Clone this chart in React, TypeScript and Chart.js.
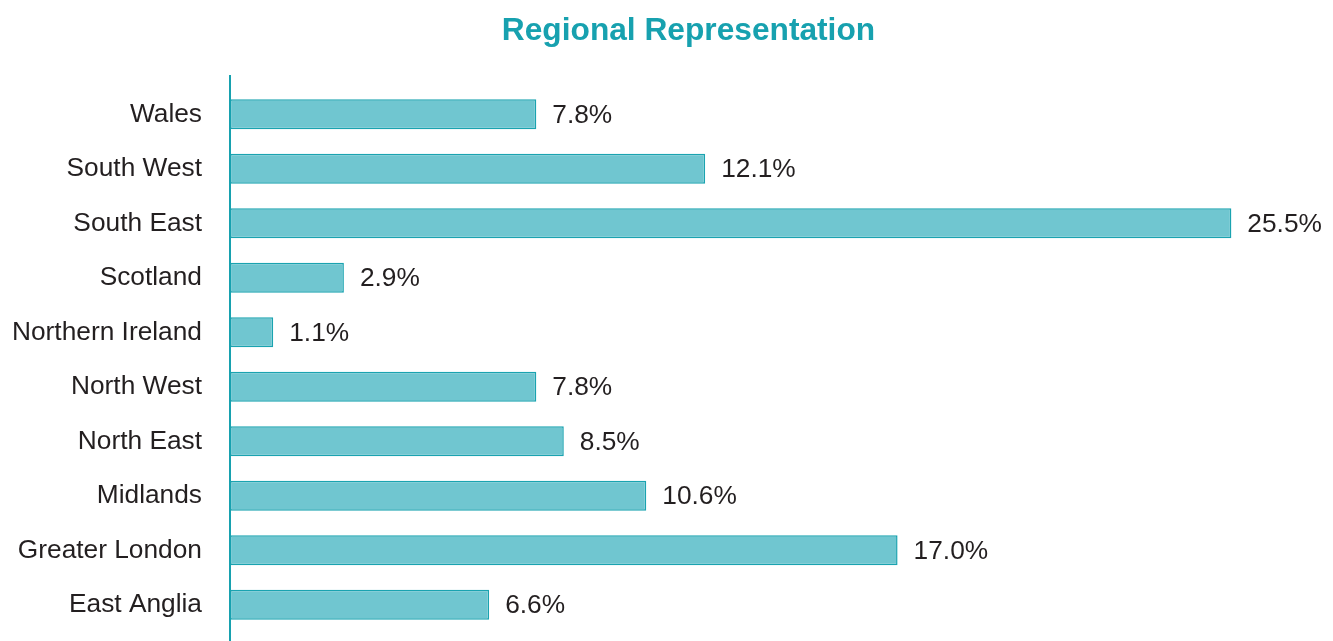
import React, { useEffect, useRef } from "react";
import { Chart, registerables } from "chart.js";

Chart.register(...registerables);

const categories = [
  "Wales",
  "South West",
  "South East",
  "Scotland",
  "Northern Ireland",
  "North West",
  "North East",
  "Midlands",
  "Greater London",
  "East Anglia",
];
const shares = [7.8, 12.1, 25.5, 2.9, 1.1, 7.8, 8.5, 10.6, 17.0, 6.6];
const titleText = "Regional Representation";

const FONT = "'Liberation Sans', Arial, Helvetica, sans-serif";
const TEAL = "#17a1af";

const valueLabels = {
  id: "valueLabels",
  afterDatasetsDraw(chart: any) {
    const ctx = chart.ctx;
    const meta = chart.getDatasetMeta(0);
    ctx.save();
    ctx.font = `26.3px ${FONT}`;
    ctx.fillStyle = "#231f20";
    ctx.textAlign = "left";
    ctx.textBaseline = "middle";
    meta.data.forEach((bar: any, i: number) => {
      ctx.fillText(shares[i].toFixed(1) + "%", bar.x + 16, bar.y + 1);
    });
    ctx.restore();
  },
};

const axisAndTitle = {
  id: "axisAndTitle",
  afterDatasetsDraw(chart: any) {
    const ctx = chart.ctx;
    const x = chart.scales.x.getPixelForValue(0);
    ctx.save();
    ctx.strokeStyle = TEAL;
    ctx.lineWidth = 2;
    ctx.beginPath();
    ctx.moveTo(x, chart.chartArea.top - 12);
    ctx.lineTo(x, chart.height);
    ctx.stroke();
    ctx.font = `bold 31.7px ${FONT}`;
    ctx.fillStyle = TEAL;
    ctx.textAlign = "center";
    ctx.textBaseline = "alphabetic";
    ctx.fillText(titleText, 688.5, 40);
    ctx.restore();
  },
};

export default function App() {
  const ref = useRef<HTMLCanvasElement | null>(null);

  useEffect(() => {
    document.body.style.margin = "0";
    if (!ref.current) return;
    const chart = new Chart(ref.current, {
      type: "bar",
      data: {
        labels: categories,
        datasets: [
          {
            data: shares,
            backgroundColor: "#70c6d0",
            borderColor: "#1aa3b0",
            borderWidth: 1.5,
            borderSkipped: false,
            barPercentage: 0.55,
            categoryPercentage: 1,
          },
        ],
      },
      options: {
        indexAxis: "y",
        animation: false,
        responsive: false,
        maintainAspectRatio: false,
        layout: { padding: { left: 0, right: 82, top: 87, bottom: 9 } },
        plugins: {
          legend: { display: false },
          tooltip: { enabled: false },
          title: { display: false },
        },
        scales: {
          x: {
            display: false,
            min: 0,
            max: 26,
          },
          y: {
            grid: { display: false, drawTicks: false },
            border: { display: false },
            ticks: {
              color: "#231f20",
              font: { family: FONT, size: 26.3 },
              padding: 28,
            },
            afterFit(scale: any) {
              scale.width = 230;
              scale.paddingTop = 0;
              scale.paddingBottom = 0;
            },
          },
        },
      },
      plugins: [valueLabels, axisAndTitle],
    });
    return () => chart.destroy();
  }, []);

  return (
    <div style={{ width: 1333, height: 641 }}>
      <canvas ref={ref} width={1333} height={641} style={{ display: "block" }} />
    </div>
  );
}
